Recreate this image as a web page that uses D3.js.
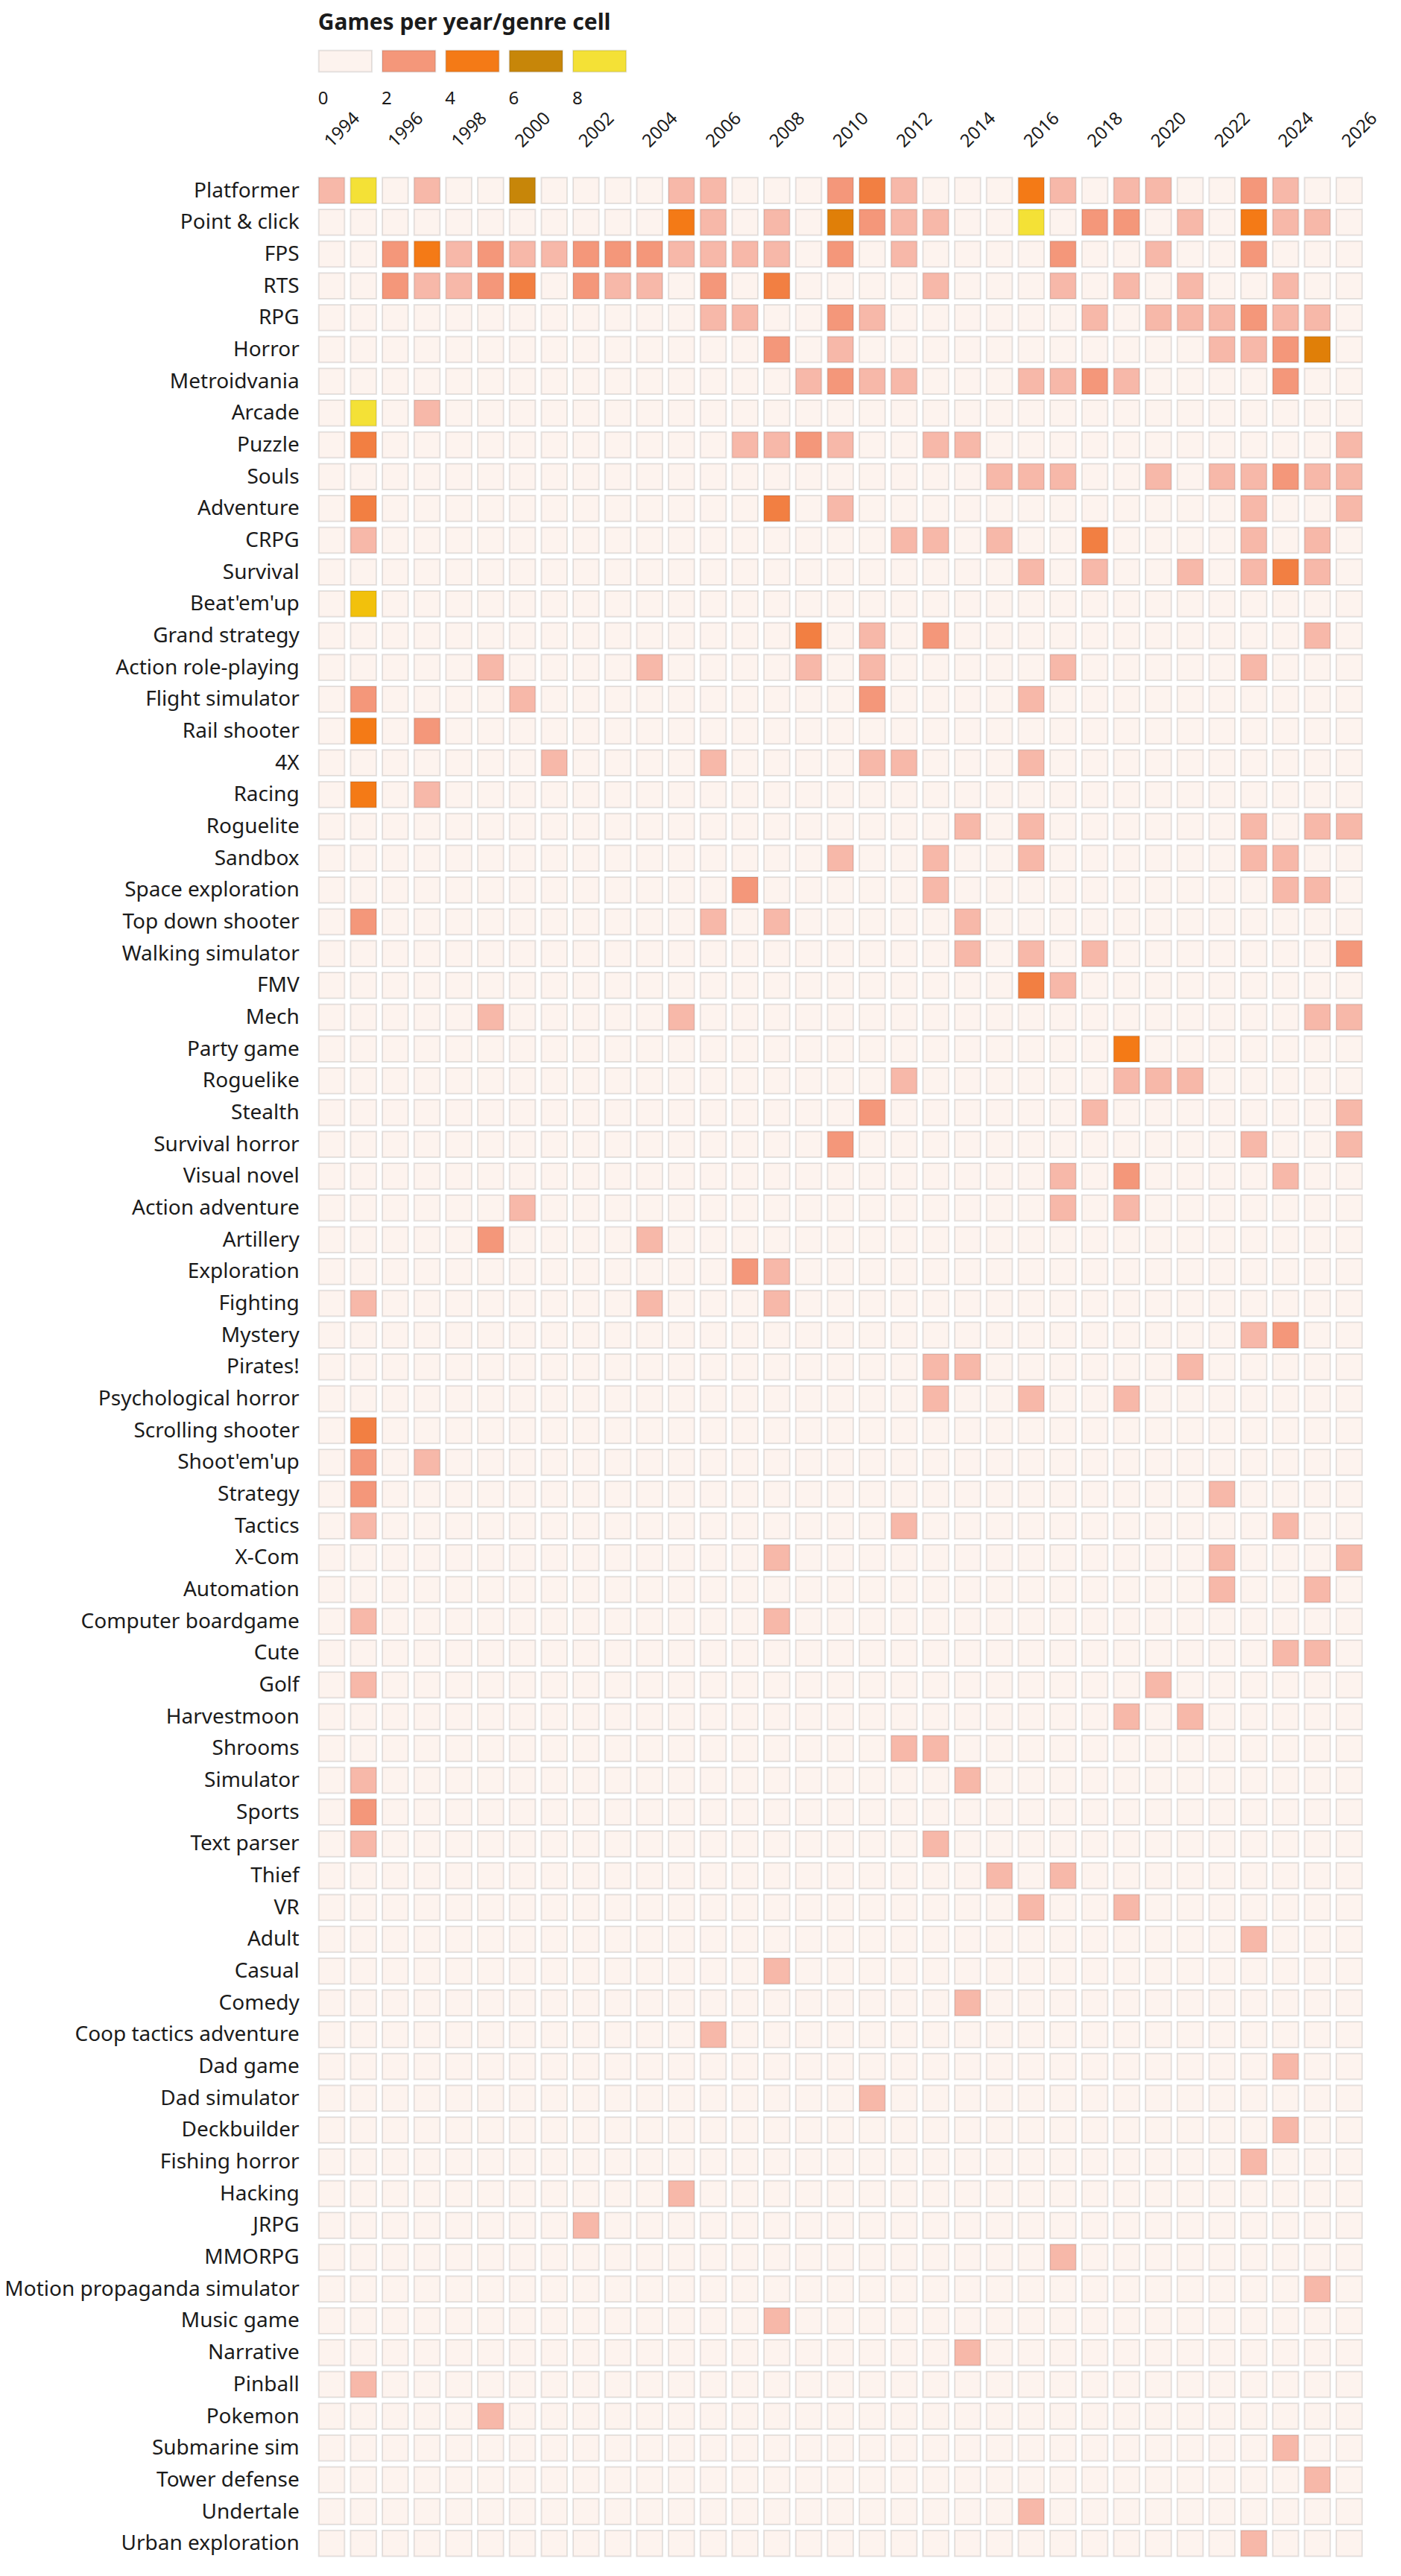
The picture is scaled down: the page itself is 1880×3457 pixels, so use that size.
<!DOCTYPE html>
<meta charset="utf-8">
<style>
  body { margin: 0; background: white; }
  svg { display: block; font-family: 'Noto Sans', sans-serif; }
  .axis text { fill: #1b1b1b; }
</style>
<body>
</body>
<script src="https://cdn.jsdelivr.net/npm/d3@7/dist/d3.min.js"></script>
<script>
  const years = [1994, 1995, 1996, 1997, 1998, 1999, 2000, 2001, 2002, 2003,
    2004, 2005, 2006, 2007, 2008, 2009, 2010, 2011, 2012, 2013,
    2014, 2015, 2016, 2017, 2018, 2019, 2020, 2021, 2022, 2023,
    2024, 2025, 2026];
  const yearTicks = [1994, 1996, 1998, 2000, 2002, 2004, 2006, 2008, 2010,
    2012, 2014, 2016, 2018, 2020, 2022, 2024, 2026];
  const legendValues = [0, 2, 4, 6, 8];

  const genres = [
    'Platformer', 'Point & click', 'FPS', 'RTS', 'RPG', 'Horror', 'Metroidvania',
    'Arcade', 'Puzzle', 'Souls', 'Adventure', 'CRPG', 'Survival', "Beat'em'up",
    'Grand strategy', 'Action role-playing', 'Flight simulator', 'Rail shooter', '4X',
    'Racing', 'Roguelite', 'Sandbox', 'Space exploration', 'Top down shooter',
    'Walking simulator', 'FMV', 'Mech', 'Party game', 'Roguelike', 'Stealth',
    'Survival horror', 'Visual novel', 'Action adventure', 'Artillery', 'Exploration',
    'Fighting', 'Mystery', 'Pirates!', 'Psychological horror', 'Scrolling shooter',
    "Shoot'em'up", 'Strategy', 'Tactics', 'X-Com', 'Automation', 'Computer boardgame',
    'Cute', 'Golf', 'Harvestmoon', 'Shrooms', 'Simulator', 'Sports', 'Text parser',
    'Thief', 'VR', 'Adult', 'Casual', 'Comedy', 'Coop tactics adventure', 'Dad game',
    'Dad simulator', 'Deckbuilder', 'Fishing horror', 'Hacking', 'JRPG', 'MMORPG',
    'Motion propaganda simulator', 'Music game', 'Narrative', 'Pinball', 'Pokemon',
    'Submarine sim', 'Tower defense', 'Undertale', 'Urban exploration'
  ];

  // one row per genre, one value per year (1994 .. 2026)
  const counts = [
    [1,8,0,1,0,0,6,0,0,0, 0,1,1,0,0,0,2,3,1,0, 0,0,4,1,0,1,1,0,0,2, 1,0,0],
    [0,0,0,0,0,0,0,0,0,0, 0,4,1,0,1,0,5,2,1,1, 0,0,8,0,2,2,0,1,0,4, 1,1,0],
    [0,0,2,4,1,2,1,1,2,2, 2,1,1,1,1,0,2,0,1,0, 0,0,0,2,0,0,1,0,0,2, 0,0,0],
    [0,0,2,1,1,2,3,0,2,1, 1,0,2,0,3,0,0,0,0,1, 0,0,0,1,0,1,0,1,0,0, 1,0,0],
    [0,0,0,0,0,0,0,0,0,0, 0,0,1,1,0,0,2,1,0,0, 0,0,0,0,1,0,1,1,1,2, 1,1,0],
    [0,0,0,0,0,0,0,0,0,0, 0,0,0,0,2,0,1,0,0,0, 0,0,0,0,0,0,0,0,1,1, 2,5,0],
    [0,0,0,0,0,0,0,0,0,0, 0,0,0,0,0,1,2,1,1,0, 0,0,1,1,2,1,0,0,0,0, 2,0,0],
    [0,10,0,1,0,0,0,0,0,0, 0,0,0,0,0,0,0,0,0,0, 0,0,0,0,0,0,0,0,0,0, 0,0,0],
    [0,3,0,0,0,0,0,0,0,0, 0,0,0,1,1,2,1,0,0,1, 1,0,0,0,0,0,0,0,0,0, 0,0,1],
    [0,0,0,0,0,0,0,0,0,0, 0,0,0,0,0,0,0,0,0,0, 0,1,1,1,0,0,1,0,1,1, 2,1,1],
    [0,3,0,0,0,0,0,0,0,0, 0,0,0,0,3,0,1,0,0,0, 0,0,0,0,0,0,0,0,0,1, 0,0,1],
    [0,1,0,0,0,0,0,0,0,0, 0,0,0,0,0,0,0,0,1,1, 0,1,0,0,3,0,0,0,0,1, 0,1,0],
    [0,0,0,0,0,0,0,0,0,0, 0,0,0,0,0,0,0,0,0,0, 0,0,1,0,1,0,0,1,0,1, 3,1,0],
    [0,7,0,0,0,0,0,0,0,0, 0,0,0,0,0,0,0,0,0,0, 0,0,0,0,0,0,0,0,0,0, 0,0,0],
    [0,0,0,0,0,0,0,0,0,0, 0,0,0,0,0,3,0,1,0,2, 0,0,0,0,0,0,0,0,0,0, 0,1,0],
    [0,0,0,0,0,1,0,0,0,0, 1,0,0,0,0,1,0,1,0,0, 0,0,0,1,0,0,0,0,0,1, 0,0,0],
    [0,2,0,0,0,0,1,0,0,0, 0,0,0,0,0,0,0,2,0,0, 0,0,1,0,0,0,0,0,0,0, 0,0,0],
    [0,4,0,2,0,0,0,0,0,0, 0,0,0,0,0,0,0,0,0,0, 0,0,0,0,0,0,0,0,0,0, 0,0,0],
    [0,0,0,0,0,0,0,1,0,0, 0,0,1,0,0,0,0,1,1,0, 0,0,1,0,0,0,0,0,0,0, 0,0,0],
    [0,4,0,1,0,0,0,0,0,0, 0,0,0,0,0,0,0,0,0,0, 0,0,0,0,0,0,0,0,0,0, 0,0,0],
    [0,0,0,0,0,0,0,0,0,0, 0,0,0,0,0,0,0,0,0,0, 1,0,1,0,0,0,0,0,0,1, 0,1,1],
    [0,0,0,0,0,0,0,0,0,0, 0,0,0,0,0,0,1,0,0,1, 0,0,1,0,0,0,0,0,0,1, 1,0,0],
    [0,0,0,0,0,0,0,0,0,0, 0,0,0,2,0,0,0,0,0,1, 0,0,0,0,0,0,0,0,0,0, 1,1,0],
    [0,2,0,0,0,0,0,0,0,0, 0,0,1,0,1,0,0,0,0,0, 1,0,0,0,0,0,0,0,0,0, 0,0,0],
    [0,0,0,0,0,0,0,0,0,0, 0,0,0,0,0,0,0,0,0,0, 1,0,1,0,1,0,0,0,0,0, 0,0,2],
    [0,0,0,0,0,0,0,0,0,0, 0,0,0,0,0,0,0,0,0,0, 0,0,3,1,0,0,0,0,0,0, 0,0,0],
    [0,0,0,0,0,1,0,0,0,0, 0,1,0,0,0,0,0,0,0,0, 0,0,0,0,0,0,0,0,0,0, 0,1,1],
    [0,0,0,0,0,0,0,0,0,0, 0,0,0,0,0,0,0,0,0,0, 0,0,0,0,0,4,0,0,0,0, 0,0,0],
    [0,0,0,0,0,0,0,0,0,0, 0,0,0,0,0,0,0,0,1,0, 0,0,0,0,0,1,1,1,0,0, 0,0,0],
    [0,0,0,0,0,0,0,0,0,0, 0,0,0,0,0,0,0,2,0,0, 0,0,0,0,1,0,0,0,0,0, 0,0,1],
    [0,0,0,0,0,0,0,0,0,0, 0,0,0,0,0,0,2,0,0,0, 0,0,0,0,0,0,0,0,0,1, 0,0,1],
    [0,0,0,0,0,0,0,0,0,0, 0,0,0,0,0,0,0,0,0,0, 0,0,0,1,0,2,0,0,0,0, 1,0,0],
    [0,0,0,0,0,0,1,0,0,0, 0,0,0,0,0,0,0,0,0,0, 0,0,0,1,0,1,0,0,0,0, 0,0,0],
    [0,0,0,0,0,2,0,0,0,0, 1,0,0,0,0,0,0,0,0,0, 0,0,0,0,0,0,0,0,0,0, 0,0,0],
    [0,0,0,0,0,0,0,0,0,0, 0,0,0,2,1,0,0,0,0,0, 0,0,0,0,0,0,0,0,0,0, 0,0,0],
    [0,1,0,0,0,0,0,0,0,0, 1,0,0,0,1,0,0,0,0,0, 0,0,0,0,0,0,0,0,0,0, 0,0,0],
    [0,0,0,0,0,0,0,0,0,0, 0,0,0,0,0,0,0,0,0,0, 0,0,0,0,0,0,0,0,0,1, 2,0,0],
    [0,0,0,0,0,0,0,0,0,0, 0,0,0,0,0,0,0,0,0,1, 1,0,0,0,0,0,0,1,0,0, 0,0,0],
    [0,0,0,0,0,0,0,0,0,0, 0,0,0,0,0,0,0,0,0,1, 0,0,1,0,0,1,0,0,0,0, 0,0,0],
    [0,3,0,0,0,0,0,0,0,0, 0,0,0,0,0,0,0,0,0,0, 0,0,0,0,0,0,0,0,0,0, 0,0,0],
    [0,2,0,1,0,0,0,0,0,0, 0,0,0,0,0,0,0,0,0,0, 0,0,0,0,0,0,0,0,0,0, 0,0,0],
    [0,2,0,0,0,0,0,0,0,0, 0,0,0,0,0,0,0,0,0,0, 0,0,0,0,0,0,0,0,1,0, 0,0,0],
    [0,1,0,0,0,0,0,0,0,0, 0,0,0,0,0,0,0,0,1,0, 0,0,0,0,0,0,0,0,0,0, 1,0,0],
    [0,0,0,0,0,0,0,0,0,0, 0,0,0,0,1,0,0,0,0,0, 0,0,0,0,0,0,0,0,1,0, 0,0,1],
    [0,0,0,0,0,0,0,0,0,0, 0,0,0,0,0,0,0,0,0,0, 0,0,0,0,0,0,0,0,1,0, 0,1,0],
    [0,1,0,0,0,0,0,0,0,0, 0,0,0,0,1,0,0,0,0,0, 0,0,0,0,0,0,0,0,0,0, 0,0,0],
    [0,0,0,0,0,0,0,0,0,0, 0,0,0,0,0,0,0,0,0,0, 0,0,0,0,0,0,0,0,0,0, 1,1,0],
    [0,1,0,0,0,0,0,0,0,0, 0,0,0,0,0,0,0,0,0,0, 0,0,0,0,0,0,1,0,0,0, 0,0,0],
    [0,0,0,0,0,0,0,0,0,0, 0,0,0,0,0,0,0,0,0,0, 0,0,0,0,0,1,0,1,0,0, 0,0,0],
    [0,0,0,0,0,0,0,0,0,0, 0,0,0,0,0,0,0,0,1,1, 0,0,0,0,0,0,0,0,0,0, 0,0,0],
    [0,1,0,0,0,0,0,0,0,0, 0,0,0,0,0,0,0,0,0,0, 1,0,0,0,0,0,0,0,0,0, 0,0,0],
    [0,2,0,0,0,0,0,0,0,0, 0,0,0,0,0,0,0,0,0,0, 0,0,0,0,0,0,0,0,0,0, 0,0,0],
    [0,1,0,0,0,0,0,0,0,0, 0,0,0,0,0,0,0,0,0,1, 0,0,0,0,0,0,0,0,0,0, 0,0,0],
    [0,0,0,0,0,0,0,0,0,0, 0,0,0,0,0,0,0,0,0,0, 0,1,0,1,0,0,0,0,0,0, 0,0,0],
    [0,0,0,0,0,0,0,0,0,0, 0,0,0,0,0,0,0,0,0,0, 0,0,1,0,0,1,0,0,0,0, 0,0,0],
    [0,0,0,0,0,0,0,0,0,0, 0,0,0,0,0,0,0,0,0,0, 0,0,0,0,0,0,0,0,0,1, 0,0,0],
    [0,0,0,0,0,0,0,0,0,0, 0,0,0,0,1,0,0,0,0,0, 0,0,0,0,0,0,0,0,0,0, 0,0,0],
    [0,0,0,0,0,0,0,0,0,0, 0,0,0,0,0,0,0,0,0,0, 1,0,0,0,0,0,0,0,0,0, 0,0,0],
    [0,0,0,0,0,0,0,0,0,0, 0,0,1,0,0,0,0,0,0,0, 0,0,0,0,0,0,0,0,0,0, 0,0,0],
    [0,0,0,0,0,0,0,0,0,0, 0,0,0,0,0,0,0,0,0,0, 0,0,0,0,0,0,0,0,0,0, 1,0,0],
    [0,0,0,0,0,0,0,0,0,0, 0,0,0,0,0,0,0,1,0,0, 0,0,0,0,0,0,0,0,0,0, 0,0,0],
    [0,0,0,0,0,0,0,0,0,0, 0,0,0,0,0,0,0,0,0,0, 0,0,0,0,0,0,0,0,0,0, 1,0,0],
    [0,0,0,0,0,0,0,0,0,0, 0,0,0,0,0,0,0,0,0,0, 0,0,0,0,0,0,0,0,0,1, 0,0,0],
    [0,0,0,0,0,0,0,0,0,0, 0,1,0,0,0,0,0,0,0,0, 0,0,0,0,0,0,0,0,0,0, 0,0,0],
    [0,0,0,0,0,0,0,0,1,0, 0,0,0,0,0,0,0,0,0,0, 0,0,0,0,0,0,0,0,0,0, 0,0,0],
    [0,0,0,0,0,0,0,0,0,0, 0,0,0,0,0,0,0,0,0,0, 0,0,0,1,0,0,0,0,0,0, 0,0,0],
    [0,0,0,0,0,0,0,0,0,0, 0,0,0,0,0,0,0,0,0,0, 0,0,0,0,0,0,0,0,0,0, 0,1,0],
    [0,0,0,0,0,0,0,0,0,0, 0,0,0,0,1,0,0,0,0,0, 0,0,0,0,0,0,0,0,0,0, 0,0,0],
    [0,0,0,0,0,0,0,0,0,0, 0,0,0,0,0,0,0,0,0,0, 1,0,0,0,0,0,0,0,0,0, 0,0,0],
    [0,1,0,0,0,0,0,0,0,0, 0,0,0,0,0,0,0,0,0,0, 0,0,0,0,0,0,0,0,0,0, 0,0,0],
    [0,0,0,0,0,1,0,0,0,0, 0,0,0,0,0,0,0,0,0,0, 0,0,0,0,0,0,0,0,0,0, 0,0,0],
    [0,0,0,0,0,0,0,0,0,0, 0,0,0,0,0,0,0,0,0,0, 0,0,0,0,0,0,0,0,0,0, 1,0,0],
    [0,0,0,0,0,0,0,0,0,0, 0,0,0,0,0,0,0,0,0,0, 0,0,0,0,0,0,0,0,0,0, 0,1,0],
    [0,0,0,0,0,0,0,0,0,0, 0,0,0,0,0,0,0,0,0,0, 0,0,1,0,0,0,0,0,0,0, 0,0,0],
    [0,0,0,0,0,0,0,0,0,0, 0,0,0,0,0,0,0,0,0,0, 0,0,0,0,0,0,0,0,0,1, 0,0,0]
  ];

  // colour stops for 0 .. 8 games, anything above 8 stays yellow
  const palette = ['#fdf3ee', '#f7b8a9', '#f4977a', '#f27f42', '#f47a16',
    '#e07f08', '#c78609', '#f2c10c', '#f4e136'];

  const width = 1880, height = 3457;
  const gridLeft = 426.7, gridTop = 237.3, step = 42.67, gap = 6;

  const svg = d3.select('body').append('svg')
    .attr('width', width)
    .attr('height', height);

  const color = d3.scaleLinear()
    .domain(d3.range(palette.length))
    .range(palette)
    .clamp(true);

  const pad = gap / step;
  const x = d3.scaleBand()
    .domain(years)
    .range([gridLeft, gridLeft + step * (years.length - pad)])
    .paddingInner(pad)
    .paddingOuter(0);
  const y = d3.scaleBand()
    .domain(genres)
    .range([gridTop, gridTop + step * (genres.length - pad)])
    .paddingInner(pad)
    .paddingOuter(0);

  const cells = [];
  genres.forEach((g, i) => {
    years.forEach((yr, j) => cells.push({genre: g, year: yr, n: counts[i][j]}));
  });

  svg.append('g')
    .selectAll('rect')
    .data(cells)
    .join('rect')
      .attr('x', d => x(d.year) + 1)
      .attr('y', d => y(d.genre) + 1)
      .attr('width', x.bandwidth() - 2)
      .attr('height', y.bandwidth() - 2)
      .attr('fill', d => color(d.n))
      .attr('stroke', '#000')
      .attr('stroke-opacity', 0.1)
      .attr('stroke-width', 2);

  // genre labels
  const yAxis = svg.append('g')
    .attr('class', 'axis')
    .attr('transform', `translate(${gridLeft}, 0)`)
    .call(d3.axisLeft(y).tickSize(0).tickPadding(25));
  yAxis.select('.domain').remove();
  yAxis.attr('font-family', null).attr('font-size', 28);
  yAxis.selectAll('text').attr('dy', '0.32em');

  // year labels, rotated
  const xAxis = svg.append('g')
    .attr('class', 'axis')
    .attr('transform', 'translate(0, 199)')
    .call(d3.axisTop(x).tickValues(yearTicks).tickSize(0));
  xAxis.select('.domain').remove();
  xAxis.attr('font-family', null).attr('font-size', 24);
  xAxis.selectAll('text')
    .attr('x', 0)
    .attr('y', 0)
    .attr('dy', 0)
    .attr('text-anchor', 'start')
    .attr('transform', 'rotate(-45)');

  // legend
  const lg = svg.append('g').attr('transform', `translate(${gridLeft}, 0)`);
  lg.append('text')
    .attr('x', 0)
    .attr('y', 40)
    .attr('font-size', 30)
    .attr('font-weight', 'bold')
    .attr('fill', '#1b1b1b')
    .text('Games per year/genre cell');

  const sw = lg.selectAll('g.sw')
    .data(legendValues)
    .join('g')
      .attr('class', 'sw')
      .attr('transform', (d, i) => `translate(${i * 85.3}, 0)`);
  sw.append('rect')
    .attr('x', 1)
    .attr('y', 67.7)
    .attr('width', 71.3)
    .attr('height', 28.7)
    .attr('fill', d => color(d))
    .attr('stroke', '#000')
    .attr('stroke-opacity', 0.1)
    .attr('stroke-width', 2);
  sw.append('text')
    .attr('x', 0)
    .attr('y', 140)
    .attr('font-size', 24)
    .attr('fill', '#1b1b1b')
    .text(d => d);
</script>
